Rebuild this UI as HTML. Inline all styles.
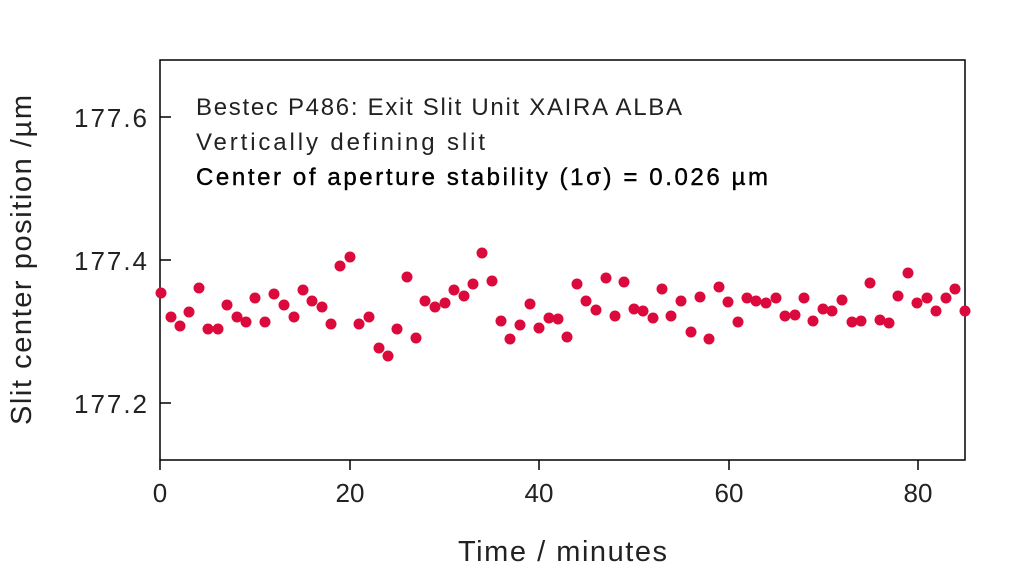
<!DOCTYPE html>
<html><head><style>body{margin:0;background:#fff}svg{display:block}</style></head><body>
<svg width="1024" height="571" xmlns="http://www.w3.org/2000/svg" font-family="Liberation Sans, sans-serif">
<rect x="160" y="60" width="805" height="400" fill="none" stroke="#000" stroke-width="1.5"/>
<g stroke="#000" stroke-width="1.5">
<line x1="160" y1="117" x2="171" y2="117"/><line x1="160" y1="260" x2="171" y2="260"/><line x1="160" y1="403" x2="171" y2="403"/>
<line x1="160" y1="460" x2="160" y2="470"/><line x1="350" y1="460" x2="350" y2="470"/><line x1="539" y1="460" x2="539" y2="470"/><line x1="729" y1="460" x2="729" y2="470"/><line x1="918" y1="460" x2="918" y2="470"/>
</g>
<g font-size="26" fill="#222" text-anchor="end">
<text x="147" y="127" textLength="73">177.6</text><text x="147" y="270" textLength="73">177.4</text><text x="147" y="413" textLength="73">177.2</text>
</g>
<g font-size="26" fill="#222" text-anchor="middle">
<text x="160" y="502">0</text><text x="350" y="502">20</text><text x="539" y="502">40</text><text x="729" y="502">60</text><text x="918" y="502">80</text>
</g>
<text x="458" y="561" font-size="29" fill="#222" textLength="209">Time / minutes</text>
<text transform="translate(31,425) rotate(-90)" font-size="29" fill="#222" textLength="330">Slit center position /µm</text>
<g font-size="24" fill="#222">
<text x="196" y="115" textLength="486">Bestec P486: Exit Slit Unit XAIRA ALBA</text>
<text x="196" y="150" textLength="289">Vertically defining slit</text>
<text x="196" y="185" fill="#000" textLength="572" stroke="#000" stroke-width="0.4">Center of aperture stability (1σ) = 0.026 µm</text>
</g>
<g fill="#dc0a3c">
<circle cx="161" cy="293" r="5.5"/><circle cx="171" cy="317" r="5.5"/><circle cx="180" cy="326" r="5.5"/><circle cx="189" cy="312" r="5.5"/><circle cx="199" cy="288" r="5.5"/><circle cx="208" cy="329" r="5.5"/><circle cx="218" cy="329" r="5.5"/><circle cx="227" cy="305" r="5.5"/><circle cx="237" cy="317" r="5.5"/><circle cx="246" cy="322" r="5.5"/><circle cx="255" cy="298" r="5.5"/><circle cx="265" cy="322" r="5.5"/><circle cx="274" cy="294" r="5.5"/><circle cx="284" cy="305" r="5.5"/><circle cx="294" cy="317" r="5.5"/><circle cx="303" cy="290" r="5.5"/><circle cx="312" cy="301" r="5.5"/><circle cx="322" cy="307" r="5.5"/><circle cx="331" cy="324" r="5.5"/><circle cx="340" cy="266" r="5.5"/><circle cx="350" cy="257" r="5.5"/><circle cx="359" cy="324" r="5.5"/><circle cx="369" cy="317" r="5.5"/><circle cx="379" cy="348" r="5.5"/><circle cx="388" cy="356" r="5.5"/><circle cx="397" cy="329" r="5.5"/><circle cx="407" cy="277" r="5.5"/><circle cx="416" cy="338" r="5.5"/><circle cx="425" cy="301" r="5.5"/><circle cx="435" cy="307" r="5.5"/><circle cx="445" cy="303" r="5.5"/><circle cx="454" cy="290" r="5.5"/><circle cx="464" cy="296" r="5.5"/><circle cx="473" cy="284" r="5.5"/><circle cx="482" cy="253" r="5.5"/><circle cx="492" cy="281" r="5.5"/><circle cx="501" cy="321" r="5.5"/><circle cx="510" cy="339" r="5.5"/><circle cx="520" cy="325" r="5.5"/><circle cx="530" cy="304" r="5.5"/><circle cx="539" cy="328" r="5.5"/><circle cx="549" cy="318" r="5.5"/><circle cx="558" cy="319" r="5.5"/><circle cx="567" cy="337" r="5.5"/>
<circle cx="577" cy="284" r="5.5"/><circle cx="586" cy="301" r="5.5"/><circle cx="596" cy="310" r="5.5"/><circle cx="606" cy="278" r="5.5"/><circle cx="615" cy="316" r="5.5"/><circle cx="624" cy="282" r="5.5"/><circle cx="634" cy="309" r="5.5"/><circle cx="643" cy="311" r="5.5"/><circle cx="653" cy="318" r="5.5"/><circle cx="662" cy="289" r="5.5"/><circle cx="671" cy="316" r="5.5"/><circle cx="681" cy="301" r="5.5"/><circle cx="691" cy="332" r="5.5"/><circle cx="700" cy="297" r="5.5"/><circle cx="709" cy="339" r="5.5"/><circle cx="719" cy="287" r="5.5"/><circle cx="728" cy="302" r="5.5"/><circle cx="738" cy="322" r="5.5"/><circle cx="747" cy="298" r="5.5"/><circle cx="756" cy="301" r="5.5"/><circle cx="766" cy="303" r="5.5"/><circle cx="776" cy="298" r="5.5"/><circle cx="785" cy="316" r="5.5"/><circle cx="795" cy="315" r="5.5"/><circle cx="804" cy="298" r="5.5"/><circle cx="813" cy="321" r="5.5"/><circle cx="823" cy="309" r="5.5"/><circle cx="832" cy="311" r="5.5"/><circle cx="842" cy="300" r="5.5"/><circle cx="852" cy="322" r="5.5"/><circle cx="861" cy="321" r="5.5"/><circle cx="870" cy="283" r="5.5"/><circle cx="880" cy="320" r="5.5"/><circle cx="889" cy="323" r="5.5"/><circle cx="898" cy="296" r="5.5"/><circle cx="908" cy="273" r="5.5"/><circle cx="917" cy="303" r="5.5"/><circle cx="927" cy="298" r="5.5"/><circle cx="936" cy="311" r="5.5"/><circle cx="946" cy="298" r="5.5"/><circle cx="955" cy="289" r="5.5"/><circle cx="965" cy="311" r="5.5"/>
</g>
</svg>
</body></html>
